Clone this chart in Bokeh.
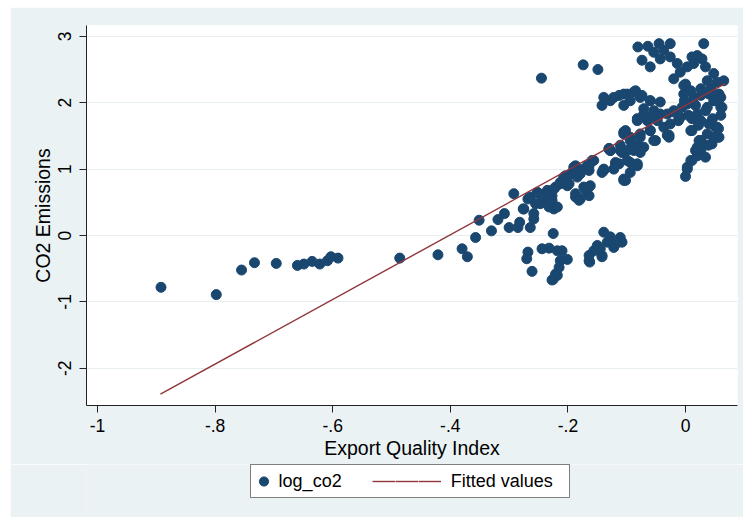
from bokeh.plotting import figure
from bokeh.layouts import column
from bokeh.models import (ColumnDataSource, FixedTicker, CustomJSTickFormatter,
                          Legend, LegendItem, Range1d)
from bokeh.embed import file_html
from bokeh.resources import INLINE

# ---------------- data ----------------
quality_index = [
    -0.892, -0.798, -0.755, -0.733, -0.696, -0.660, -0.649, -0.635, -0.622, -0.609,
    -0.603, -0.591, -0.486, -0.421, -0.380, -0.371, -0.357,
    -0.330, -0.351, -0.319, -0.308, -0.300, -0.292, -0.285, -0.282, -0.276, -0.268,
    -0.264, -0.258, -0.255, -0.249, -0.241, -0.235, -0.232, -0.227, -0.224, -0.221,
    -0.213, -0.204, -0.201, -0.187, -0.187, -0.184,
    -0.225, -0.268, -0.270, -0.261, -0.244, -0.232, -0.218, -0.213, -0.201, -0.215,
    -0.221, -0.225, -0.218, -0.227, -0.210,
    -0.164, -0.142, -0.139, -0.128, -0.111, -0.108, -0.119, -0.133, -0.150, -0.156,
    -0.142, -0.164, -0.163, -0.145, -0.122,
    -0.207, -0.198, -0.181, -0.173, -0.164, -0.159, -0.162, -0.170, -0.179, -0.142,
    -0.122, -0.113, -0.094, -0.082, -0.094, -0.102, -0.128, -0.108, -0.077, -0.193,
    -0.167, -0.164, -0.187, -0.181, -0.105, -0.130, -0.105, -0.082, -0.051, -0.028,
    0.000, 0.003, 0.011, 0.020, 0.034, 0.026, 0.003, 0.023, 0.054, 0.051, 0.062, 0.060,
    -0.174, -0.149, -0.245,
    -0.081, -0.064, -0.045, -0.026, -0.037, -0.054, -0.074, -0.060, -0.043, -0.026,
    -0.014, -0.020, -0.009, 0.031, 0.011, 0.020, 0.003, 0.014, 0.028, 0.034,
    0.048, 0.065, 0.054, 0.000, -0.003, -0.006, 0.003, 0.014, 0.026, 0.037,
    0.040, 0.048, 0.057, 0.060, 0.037, 0.020, 0.011, 0.026, 0.040, 0.054,
    0.057, 0.037, 0.045, 0.026, 0.020, 0.011,
    -0.139, -0.142, -0.128, -0.113, -0.099, -0.085, -0.094, -0.105, -0.077, -0.060,
    -0.043, -0.054, -0.071, -0.082, -0.065, -0.043, -0.020, -0.011, -0.037, -0.060,
    -0.077, -0.094, -0.102, -0.028, -0.111, -0.091, -0.130, -0.099,
    -0.003, 0.009, 0.026, 0.043, 0.051, 0.034, 0.017, 0.005, 0.022, 0.046,
    0.060, 0.009, 0.026, 0.039, 0.017, 0.056, -0.002, -0.012,
    -0.122, -0.105, -0.088, -0.074, -0.060, -0.071, -0.082, -0.062, -0.048, -0.031,
    -0.020, -0.009, -0.026, -0.060, -0.077, -0.094, -0.105, -0.111, -0.088, -0.071,
    -0.054, -0.128, -0.119, -0.099, -0.082, -0.139, -0.105, -0.031, 0.009, 0.020,
    0.048,
    -0.264, -0.252, -0.241, -0.227, -0.247, -0.275, -0.224, -0.213, -0.201, -0.190,
    -0.179, -0.164, -0.156, -0.139, -0.173, -0.164, -0.130, -0.119, -0.218, -0.258,
]
log_co2 = [
    -0.78, -0.89, -0.52, -0.41, -0.42, -0.45, -0.43, -0.39, -0.43, -0.38,
    -0.32, -0.34, -0.34, -0.29, -0.20, -0.32, -0.03,
    0.07, 0.23, 0.24, 0.33, 0.12, 0.63, 0.12, 0.20, 0.40, 0.55,
    0.12, 0.25, 0.48, 0.63, 0.53, 0.68, 0.43, 0.60, 0.40, 0.73,
    0.80, 0.90, 0.75, 1.05, 0.63, 0.88,
    0.03, -0.25, -0.35, -0.54, -0.20, -0.19, -0.23, -0.38, -0.36, -0.48,
    -0.58, -0.66, -0.60, -0.67, -0.23,
    -0.38, -0.30, 0.05, -0.02, -0.03, -0.10, -0.13, -0.10, -0.15, -0.23,
    -0.32, -0.30, -0.40, -0.20, -0.18,
    0.88, 0.78, 0.95, 1.00, 1.05, 1.13, 0.75, 0.68, 0.55, 0.95,
    1.00, 1.08, 1.10, 1.05, 0.95, 0.83, 1.28, 1.25, 1.25, 0.95,
    1.05, 0.73, 0.58, 0.53, 1.56, 1.30, 0.83, 1.36, 1.43, 1.51,
    0.89, 1.00, 1.13, 1.20, 1.18, 1.28, 1.03, 1.43, 1.48, 1.63, 1.93, 2.08,
    2.57, 2.50, 2.37,
    2.84, 2.85, 2.89, 2.89, 2.79, 2.76, 2.64, 2.54, 2.66, 2.69,
    2.59, 2.36, 2.46, 2.89, 2.69, 2.71, 2.54, 2.59, 2.66, 2.54,
    2.44, 2.33, 2.31, 2.28, 2.13, 1.93, 1.98, 2.08, 2.21, 2.33,
    2.13, 2.03, 2.13, 1.93, 1.93, 1.83, 1.76, 1.73, 1.68, 1.63,
    1.48, 1.53, 1.38, 1.43, 1.28, 1.58,
    2.08, 1.96, 2.03, 2.11, 2.13, 2.18, 2.03, 1.96, 2.08, 2.03,
    2.01, 1.88, 1.91, 1.76, 1.73, 1.83, 1.88, 1.76, 1.63, 1.58,
    1.53, 1.48, 1.58, 1.48, 1.36, 1.36, 1.31, 1.28,
    2.26, 2.18, 2.11, 2.21, 2.03, 1.88, 1.96, 1.81, 1.66, 1.76,
    1.81, 1.58, 1.43, 1.36, 1.28, 1.61, 2.03, 1.73,
    2.08, 2.13, 2.16, 2.11, 2.03, 1.83, 1.73, 1.78, 1.73, 1.83,
    1.86, 1.78, 1.68, 1.58, 1.48, 1.43, 1.53, 1.28, 1.28, 1.33,
    1.43, 1.28, 1.10, 1.13, 1.08, 1.00, 0.85, 1.51, 1.13, 1.33,
    1.48,
    0.58, 0.65, 0.58, 0.53, 0.48, 0.40, 0.70, 0.78, 0.88, 1.03,
    0.93, 0.98, 1.13, 0.98, 0.73, 0.60, 1.31, 1.08, 0.43, 0.33,
]
fitted_x = [-0.893, 0.068]
fitted_y = [-2.39, 2.29]

x_ticks = [-1, -0.8, -0.6, -0.4, -0.2, 0]
y_ticks = [-2, -1, 0, 1, 2, 3]
series_labels = ["log_co2", "Fitted values"]

# ---------------- styling ----------------
NAVY = "#1A476F"
MAROON = "#90353B"
PANEL = "#EAF2F3"
FONT = "Liberation Sans"
NB = "\u00a0"

p = figure(width=733, height=457, margin=(7, 0, 0, 10),
           output_backend="svg", toolbar_location=None,
           x_range=Range1d(-1.0187, 0.0884), y_range=Range1d(-2.56, 3.163),
           min_border_left=76, min_border_right=6, min_border_top=18,
           min_border_bottom=59)
p.background_fill_color = "white"
p.border_fill_color = PANEL
p.outline_line_color = None

src = ColumnDataSource(dict(x=quality_index, y=log_co2))
fit = ColumnDataSource(dict(x=fitted_x, y=fitted_y))
p.scatter("x", "y", source=src, size=10, fill_color=NAVY, line_color=NAVY)
p.line("x", "y", source=fit, line_color=MAROON, line_width=1.4)

p.xgrid.grid_line_color = None
p.ygrid.grid_line_color = "#E6EEF1"
p.ygrid.grid_line_width = 1.2

p.xaxis.ticker = FixedTicker(ticks=x_ticks)
p.yaxis.ticker = FixedTicker(ticks=y_ticks)
p.xaxis.formatter = CustomJSTickFormatter(code="""
    var s = (Math.round(tick * 10) / 10).toString();
    return s.replace(/^(-?)0\\./, '$1.');
""")
p.yaxis.formatter = CustomJSTickFormatter(code="return Math.round(tick).toString();")

for ax in (p.xaxis[0], p.yaxis[0]):
    ax.axis_line_color = "#222222"
    ax.major_tick_line_color = "#222222"
    ax.major_tick_in = 0
    ax.major_tick_out = 7
    ax.minor_tick_line_color = None
    ax.major_label_text_font = FONT
    ax.major_label_text_font_size = "17.5px"
    ax.major_label_text_color = "black"
    ax.axis_label_text_font = FONT
    ax.axis_label_text_font_size = "19.5px"
    ax.axis_label_text_font_style = "normal"
    ax.axis_label_text_color = "black"

p.xaxis.axis_label = "Export Quality Index"
p.yaxis.axis_label = "CO2 Emissions"
p.yaxis.major_label_orientation = "vertical"
p.xaxis.major_label_standoff = 6
p.yaxis.major_label_standoff = 8
p.xaxis.axis_label_standoff = 2
p.yaxis.axis_label_standoff = 2

# ---------------- legend strip below the plot ----------------
# same series drawn in a strip whose ranges keep them out of view; only the key shows
lg = figure(width=733, height=53, margin=(0, 0, 0, 10),
            output_backend="svg", toolbar_location=None,
            x_axis_type=None, y_axis_type=None,
            x_range=Range1d(100, 101), y_range=Range1d(100, 101),
            min_border=0)
lg.background_fill_color = PANEL
lg.border_fill_color = PANEL
lg.outline_line_color = None
lg.grid.grid_line_color = None
key_sc = lg.scatter("x", "y", source=src, size=10, fill_color=NAVY, line_color=NAVY)
key_ln = lg.line("x", "y", source=fit, line_color=MAROON, line_width=1.4)

# one circle item, then three contiguous line glyphs forming one long line
items = [
    LegendItem(label="\u2009" + series_labels[0] + NB * 6, renderers=[key_sc]),
    LegendItem(label="", renderers=[key_ln]),
    LegendItem(label="", renderers=[key_ln]),
    LegendItem(label=NB * 2 + series_labels[1] + NB * 3, renderers=[key_ln]),
]
leg = Legend(items=items, location=(164, 19), orientation="horizontal",
             glyph_width=23, glyph_height=30, label_height=30, label_width=0,
             label_standoff=0, padding=1, spacing=0, margin=0,
             border_line_color="black", border_line_width=1,
             background_fill_color="white", background_fill_alpha=1,
             label_text_font=FONT, label_text_font_size="18px",
             label_text_color="black")
lg.add_layout(leg, "center")

open("out.html", "w").write(file_html(column(p, lg, spacing=0), INLINE))
